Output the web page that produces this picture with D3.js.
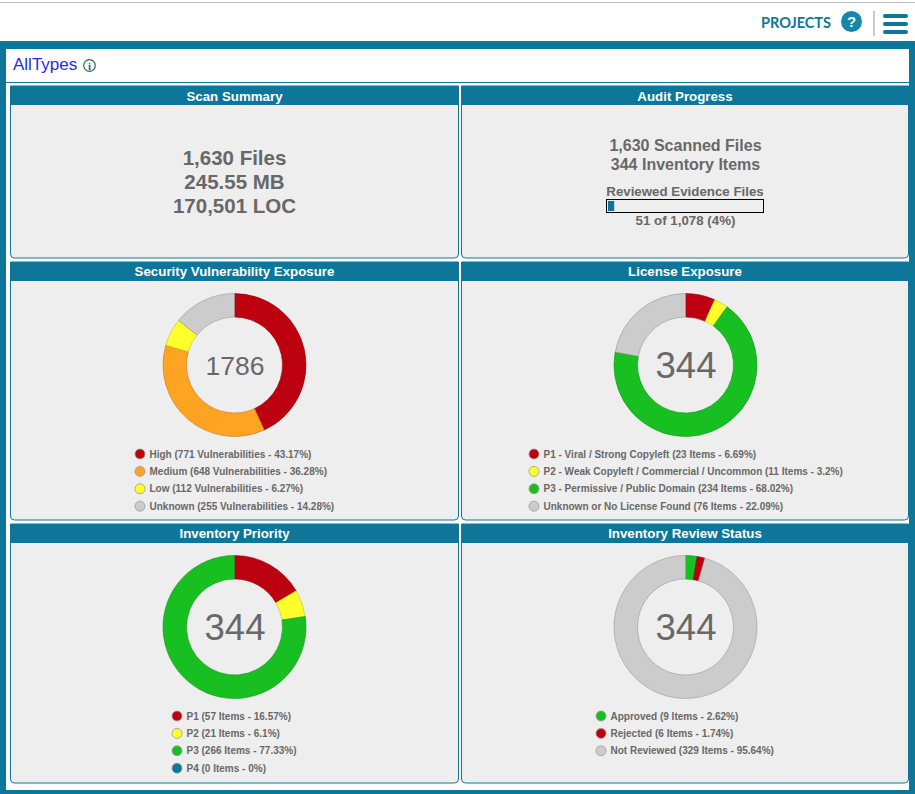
<!DOCTYPE html>
<html>
<head>
<meta charset="utf-8">
<script src="https://cdn.jsdelivr.net/npm/d3@7"></script>
<style>
  html, body { margin: 0; padding: 0; background: #fff; overflow: hidden; }
  svg { display: block; font-family: "Liberation Sans", Arial, sans-serif; }
</style>
</head>
<body>
<svg id="chart" width="915" height="794"></svg>
<script>
const teal = "#0e7698";
const grey = "#686868";

const summaryLines = ["1,630 Files", "245.55 MB", "170,501 LOC"];
const auditLines = ["1,630 Scanned Files", "344 Inventory Items"];
const reviewedPct = 4;

const vulnNames = ["High", "Medium", "Low", "Unknown"];
const vulnCounts = [771, 648, 112, 255];
const vulnPcts = ["43.17", "36.28", "6.27", "14.28"];
const vulnColors = ["#bd000f", "#ffa322", "#ffff2b", "#cccccc"];

const licenseNames = ["P1 - Viral / Strong Copyleft", "P2 - Weak Copyleft / Commercial / Uncommon", "P3 - Permissive / Public Domain", "Unknown or No License Found"];
const licenseCounts = [23, 11, 234, 76];
const licensePcts = ["6.69", "3.2", "68.02", "22.09"];
const licenseColors = ["#bd000f", "#ffff2b", "#17c020", "#cccccc"];

const priorityNames = ["P1", "P2", "P3", "P4"];
const priorityCounts = [57, 21, 266, 0];
const priorityPcts = ["16.57", "6.1", "77.33", "0"];
const priorityColors = ["#bd000f", "#ffff2b", "#17c020", "#0e7698"];

const reviewNames = ["Approved", "Rejected", "Not Reviewed"];
const reviewCounts = [9, 6, 329];
const reviewPcts = ["2.62", "1.74", "95.64"];
const reviewColors = ["#17c020", "#bd000f", "#cccccc"];

let svg = d3.select("#chart");

// page frame
svg.append("rect").attr("x", 0).attr("y", 2).attr("width", 915).attr("height", 1).attr("fill", "#bbbbbb");
svg.append("rect").attr("x", 0).attr("y", 41).attr("width", 915).attr("height", 753).attr("fill", teal);
svg.append("rect").attr("x", 6).attr("y", 49).attr("width", 903).attr("height", 741).attr("fill", "#ffffff");
svg.append("rect").attr("x", 6).attr("y", 82).attr("width", 903).attr("height", 1).attr("fill", teal);

// top bar
svg.append("text").attr("x", 831).attr("y", 28).attr("text-anchor", "end")
    .attr("font-family", "Lato").attr("font-size", "14.5px").attr("font-weight", "bold")
    .attr("fill", teal).text("PROJECTS");
svg.append("circle").attr("cx", 851.5).attr("cy", 21.5).attr("r", 10.5).attr("fill", "#1487ab");
svg.append("text").attr("x", 851.5).attr("y", 27).attr("text-anchor", "middle")
    .attr("font-size", "15px").attr("font-weight", "bold").attr("fill", "#fff").text("?");
svg.append("rect").attr("x", 873).attr("y", 11).attr("width", 2).attr("height", 25).attr("fill", "#cccccc");
[16, 24, 32].forEach(y => {
    svg.append("rect").attr("x", 883).attr("y", y - 2).attr("width", 25).attr("height", 4).attr("rx", 2).attr("fill", teal);
});

// title row
svg.append("text").attr("x", 13).attr("y", 70).attr("font-size", "17px").attr("fill", "#2a2ae6").text("AllTypes");
svg.append("circle").attr("cx", 89.5).attr("cy", 65.5).attr("r", 5.8).attr("fill", "none").attr("stroke", "#2f5f70").attr("stroke-width", 1.2);
svg.append("text").attr("x", 89.5).attr("y", 69.5).attr("text-anchor", "middle")
    .attr("font-family", "Liberation Serif").attr("font-size", "11px").attr("font-weight", "bold").attr("fill", "#2f5f70").text("i");

function card(x, y, w, h, title, titleY) {
    svg.append("path")
        .attr("d", `M${x + 0.5},${y}V${y + h - 4}q0,4 4,4H${x + w - 4.5}q4,0 4,-4V${y}Z`)
        .attr("fill", "#eeeeee").attr("stroke", teal).attr("stroke-width", 1);
    svg.append("rect").attr("x", x).attr("y", y).attr("width", w).attr("height", 19).attr("fill", teal);
    svg.append("text").attr("x", x + w / 2).attr("y", y + titleY).attr("text-anchor", "middle")
        .attr("font-size", "13.3px").attr("font-weight", "bold").attr("fill", "#ffffff").text(title);
}

card(10, 86, 449, 172, "Scan Summary", 15);
card(461, 86, 448, 172, "Audit Progress", 15);
card(10, 262, 449, 258, "Security Vulnerability Exposure", 14);
card(461, 262, 448, 258, "License Exposure", 14);
card(10, 524, 449, 259, "Inventory Priority", 14);
card(461, 524, 448, 259, "Inventory Review Status", 14);

// scan summary
svg.append("g").selectAll("text").data(summaryLines).join("text")
    .attr("x", 234.5).attr("y", (d, i) => 165 + i * 24)
    .attr("text-anchor", "middle").attr("font-size", "20.5px").attr("font-weight", "bold").attr("fill", grey)
    .text(d => d);

// audit progress
svg.append("g").selectAll("text").data(auditLines).join("text")
    .attr("x", 685.5).attr("y", (d, i) => 151 + i * 19)
    .attr("text-anchor", "middle").attr("font-size", "16px").attr("font-weight", "bold").attr("fill", grey)
    .text(d => d);
svg.append("text").attr("x", 685).attr("y", 196).attr("text-anchor", "middle")
    .attr("font-size", "13.3px").attr("font-weight", "bold").attr("fill", grey).text("Reviewed Evidence Files");
let barX = d3.scaleLinear().domain([0, 100]).range([608, 763]);
svg.append("rect").attr("x", 606.5).attr("y", 199.5).attr("width", 157).attr("height", 13)
    .attr("fill", "none").attr("stroke", "#000").attr("stroke-width", 1);
svg.append("rect").attr("x", barX(0)).attr("y", 201).attr("width", barX(reviewedPct) - barX(0)).attr("height", 10).attr("fill", teal);
svg.append("text").attr("x", 685.5).attr("y", 225).attr("text-anchor", "middle")
    .attr("font-size", "13.3px").attr("font-weight", "bold").attr("fill", grey).text("51 of 1,078 (4%)");

function donut(cx, cy, total, fontSize, names, counts, pcts, colors, unit, legendX, legendY) {
    let pie = d3.pie().sort(null);
    let arc = d3.arc().innerRadius(48).outerRadius(71.5);
    let g = svg.append("g").attr("transform", `translate(${cx},${cy})`);
    g.selectAll("path").data(pie(counts)).join("path")
        .attr("d", arc)
        .attr("fill", (d, i) => colors[i])
        .attr("stroke", (d, i) => d3.color(colors[i]).darker(0.8))
        .attr("stroke-width", 0.6)
        .attr("display", d => d.value > 0 ? null : "none");
    g.append("text").attr("x", 0.5).attr("y", fontSize * 0.36).attr("text-anchor", "middle")
        .attr("font-size", fontSize + "px").attr("fill", grey).text(total);

    let rows = svg.append("g").selectAll("g").data(names).join("g")
        .attr("transform", (d, i) => `translate(${legendX},${legendY + i * 17.4})`);
    rows.append("circle").attr("r", 5)
        .attr("fill", (d, i) => colors[i]).attr("stroke", "#999999").attr("stroke-width", 0.8);
    rows.append("text").attr("x", 9.5).attr("y", 3.5)
        .attr("font-size", "10px").attr("font-weight", "bold").attr("fill", grey)
        .text((d, i) => `${d} (${counts[i]} ${unit} - ${pcts[i]}%)`);
}

donut(234.5, 365, 1786, 26.5, vulnNames, vulnCounts, vulnPcts, vulnColors, "Vulnerabilities", 140, 454);
donut(685.5, 365, 344, 36.5, licenseNames, licenseCounts, licensePcts, licenseColors, "Items", 534, 454);
donut(234.5, 627, 344, 36.5, priorityNames, priorityCounts, priorityPcts, priorityColors, "Items", 177, 716);
donut(685.5, 627, 344, 36.5, reviewNames, reviewCounts, reviewPcts, reviewColors, "Items", 601, 716);
</script>
</body>
</html>
